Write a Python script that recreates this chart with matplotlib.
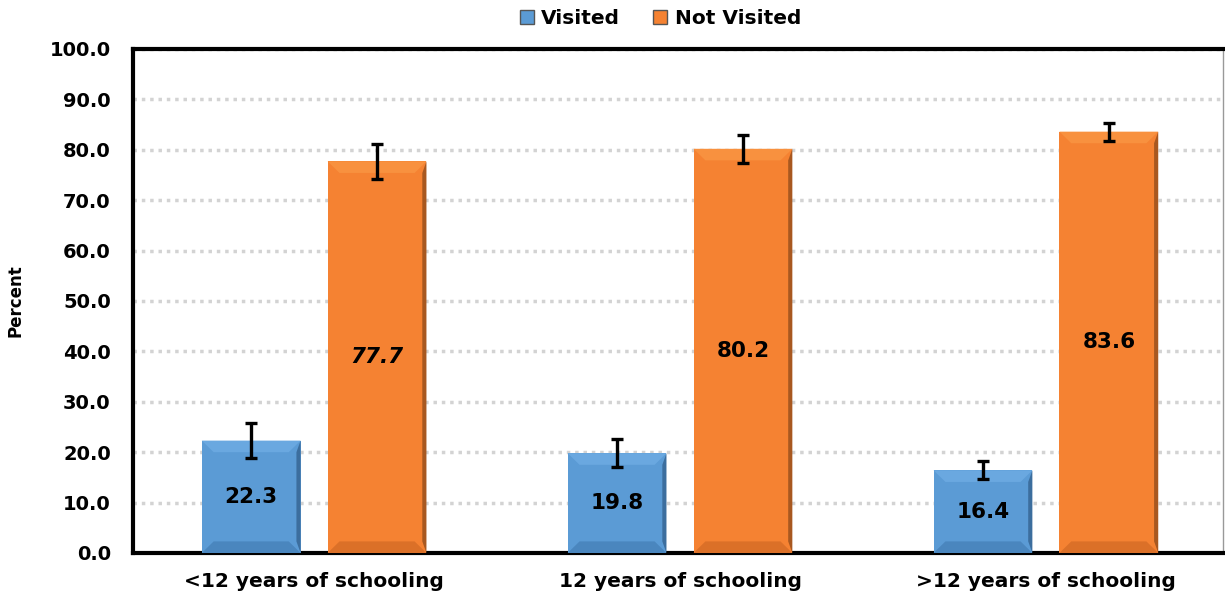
import matplotlib.pyplot as plt
import numpy as np
from matplotlib.patches import Polygon
from matplotlib.lines import Line2D

categories = ["<12 years of schooling", "12 years of schooling", ">12 years of schooling"]
visited = [22.3, 19.8, 16.4]
not_visited = [77.7, 80.2, 83.6]
visited_err = [3.5, 2.8, 1.8]
not_visited_err = [3.5, 2.8, 1.8]
series_names = ["Visited", "Not Visited"]

blue = "#5B9BD5"
orange = "#F58232"

plt.rcParams['font.family'] = 'DejaVu Sans'
plt.rcParams['font.weight'] = 'bold'

fig = plt.figure(figsize=(12.25, 5.97), dpi=100)
ax = fig.add_axes([133/1225, 1-553/597, 1090/1225, 504/597])

x = np.arange(len(categories))
w = 0.27
off = 0.172

b1 = ax.bar(x - off, visited, w, color=blue, zorder=3)
b2 = ax.bar(x + off, not_visited, w, color=orange, zorder=3)

# fake bevel look on each bar
def bevel(bars, light, dark, darker):
    for p in bars:
        x0, y0 = p.get_x(), p.get_y()
        bw, bh = p.get_width(), p.get_height()
        dx = bw * 0.12
        dy = 2.3
        x1 = x0 + bw
        y1 = y0 + bh
        ax.add_patch(Polygon([(x0, y1), (x1, y1), (x1 - dx, y1 - dy), (x0 + dx, y1 - dy)],
                             closed=True, color=light, lw=0, zorder=4))
        ax.add_patch(Polygon([(x0, y0), (x1, y0), (x1 - dx, y0 + dy), (x0 + dx, y0 + dy)],
                             closed=True, color=dark, lw=0, zorder=4))
        ax.add_patch(Polygon([(x1, y0), (x1, y1), (x1 - dx * 0.35, y1 - dy), (x1 - dx * 0.35, y0 + dy)],
                             closed=True, color=darker, lw=0, zorder=4))

bevel(b1, "#6AA8E0", "#4A86BE", "#3C6E9E")
bevel(b2, "#F8913F", "#DB7028", "#A85820")

ax.errorbar(x - off, visited, yerr=visited_err, fmt='none', ecolor='black',
            elinewidth=2.4, capsize=4.5, capthick=2.4, zorder=5)
ax.errorbar(x + off, not_visited, yerr=not_visited_err, fmt='none', ecolor='black',
            elinewidth=2.4, capsize=4.5, capthick=2.4, zorder=5)

for i in range(len(categories)):
    ax.text(x[i] - off, visited[i] / 2, f"{visited[i]:.1f}", ha='center', va='center',
            fontsize=15.5, fontweight='bold', zorder=6)
    ax.text(x[i] + off, not_visited[i] / 2, f"{not_visited[i]:.1f}", ha='center', va='center',
            fontsize=15.5, fontweight='bold', style='italic' if i == 0 else 'normal', zorder=6)

ax.set_ylim(0, 100)
ax.set_xlim(-0.495, 2.484)
ax.set_yticks(np.arange(0, 101, 10))
ax.set_yticklabels([f"{v:.1f}" for v in np.arange(0, 101, 10)], fontsize=14, fontweight='bold')
ax.set_xticks(x)
ax.set_xticklabels(categories, fontsize=14.5, fontweight='bold')
ax.tick_params(axis='both', length=0)
ax.tick_params(axis='y', pad=16)
ax.tick_params(axis='x', pad=14)
ax.yaxis.grid(True, linestyle=(0, (1, 1.4)), linewidth=2.5, color='#D3D3D3', zorder=0)
ax.set_axisbelow(True)

ax.spines['left'].set_linewidth(3)
ax.spines['bottom'].set_linewidth(3)
ax.spines['top'].set_linewidth(3)
ax.spines['right'].set_linewidth(1)
ax.spines['right'].set_color('#999999')

ax.set_ylabel("Percent", fontsize=12, fontweight='bold', labelpad=18)

handles = [Line2D([], [], marker='s', linestyle='none', markersize=10, markerfacecolor=c,
                  markeredgecolor='#555555') for c in (blue, orange)]
fig.legend(handles, series_names, loc='center', bbox_to_anchor=(660/1225, 1-19/597), ncol=2,
           frameon=False, fontsize=14.5, handlelength=0.8, handletextpad=0.3, columnspacing=1.6)

fig.savefig("out.png", dpi=100)
